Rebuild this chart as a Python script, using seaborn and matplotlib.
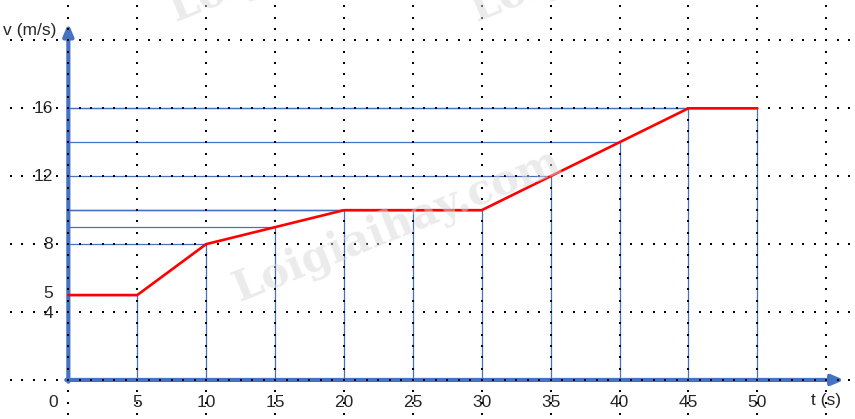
import numpy as np
import pandas as pd
import matplotlib
matplotlib.use("Agg")
import matplotlib.pyplot as plt
import seaborn as sns

# data
t_vals = [0, 5, 10, 15, 20, 25, 30, 35, 40, 45, 50]
v_vals = [5, 5, 8, 9, 10, 10, 10, 12, 14, 16, 16]
x_labels = [0, 5, 10, 15, 20, 25, 30, 35, 40, 45, 50]
y_labels = [16, 12, 8, 5, 4]
y_label_pos = [16, 12, 8, 5.1, 3.9]

df = pd.DataFrame({'t': t_vals, 'v': v_vals})

sns.set_style("white")
plt.rcParams['font.family'] = ['Liberation Sans', 'DejaVu Sans']

blue = '#4472C4'
fig = plt.figure(figsize=(8.55, 4.19), dpi=100)
ax = fig.add_axes([0, 0, 1, 1])
ax.set_xlim(-4.96, 57.09)
ax.set_ylim(-2.30, 22.38)

# dotted background grid
gx = np.arange(-6 * 5 / 6, 58, 5 / 6)
for yy in range(0, 24, 4):
    ax.scatter(gx, np.full_like(gx, yy), s=0.9, marker='s', color='black', linewidths=0, zorder=5)
gy = np.arange(-4, 24, 4 / 6)
for xx in range(0, 60, 5):
    ax.scatter(np.full_like(gy, xx), gy, s=0.9, marker='s', color='black', linewidths=0, zorder=5)

# guide lines
for t, v in zip(t_vals[1:], v_vals[1:]):
    ax.vlines(t, 0, v, color=blue, lw=0.9, zorder=2)
    ax.hlines(v, 0, t, color=blue, lw=0.9, zorder=2)

# axes with arrows
ax.annotate('', xy=(56.3, 0), xytext=(-0.15, 0),
            arrowprops=dict(arrowstyle='-|>,head_length=0.7,head_width=0.3', color=blue, lw=3, shrinkA=0, shrinkB=0),
            zorder=4)
ax.annotate('', xy=(0, 21.0), xytext=(0, -0.1),
            arrowprops=dict(arrowstyle='-|>,head_length=0.7,head_width=0.3', color=blue, lw=3, shrinkA=0, shrinkB=0),
            zorder=4)

# velocity line
sns.lineplot(data=df, x='t', y='v', ax=ax, color='red', lw=1.9, zorder=6, legend=False)
ax.axis('off')

# tick labels
fs = 12.5
for xl in x_labels:
    if xl == 0:
        ax.text(-0.75, -1.3, '0', ha='right', va='center', fontsize=fs)
    else:
        ax.text(xl, -1.3, str(xl), ha='center', va='center', fontsize=fs)
for yl, yp in zip(y_labels, y_label_pos):
    ax.text(-1.1, yp, str(yl), ha='right', va='center', fontsize=fs)

ax.text(55.0, -1.2, 't (s)', ha='center', va='center', fontsize=fs)
ax.text(-0.85, 20.6, 'v (m/s)', ha='right', va='center', fontsize=fs)

# watermarks
wm = dict(fontsize=30, fontweight='bold', family='DejaVu Serif', color='#d8d8d8',
          alpha=0.5, rotation=22, ha='center', va='center', zorder=10, clip_on=False)
ax.text(23.85, 9.13, 'Loigiaihay.com', **wm)
ax.text(19.2, 25.6, 'Loigiaihay.com', **wm)
ax.text(41.0, 25.6, 'Loigiaihay.com', **wm)

fig.savefig('out.png', dpi=100)
